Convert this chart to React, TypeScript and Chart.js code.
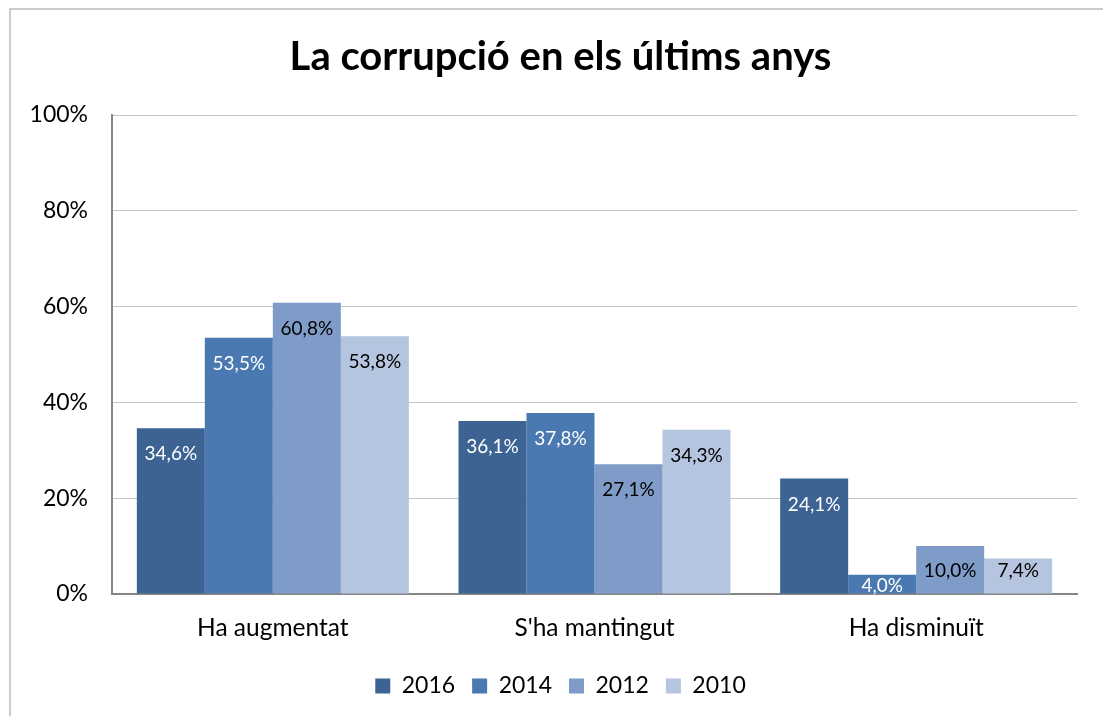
import React, { useEffect, useRef } from "react";
import { Chart, registerables } from "chart.js";

Chart.register(...registerables);

const categories = ["Ha augmentat", "S'ha mantingut", "Ha disminuït"];
const seriesLabels = ["2016", "2014", "2012", "2010"];
const values2016 = [34.6, 36.1, 24.1];
const values2014 = [53.5, 37.8, 4.0];
const values2012 = [60.8, 27.1, 10.0];
const values2010 = [53.8, 34.3, 7.4];
const yTicks = [0, 20, 40, 60, 80, 100];

const colors = ["#3d6393", "#4a78b0", "#7f9cc8", "#b5c4df"];
const labelColors = ["#ffffff", "#ffffff", "#000000", "#000000"];
const FONT = "Lato, 'Open Sans', sans-serif";

const fmt = (v: number) => v.toFixed(1).replace(".", ",") + "%";

const framePlugin = {
  id: "frame",
  beforeDraw(chart: any) {
    const ctx = chart.ctx;
    ctx.save();
    ctx.fillStyle = "#ffffff";
    ctx.fillRect(0, 0, chart.width, chart.height);
    ctx.fillStyle = "#cccccc";
    ctx.fillRect(9, 8, chart.width, 2);
    ctx.fillRect(9, 8, 2, chart.height);
    ctx.restore();
  },
};

// let the y-axis labels extend into the left padding without being clipped
const axisAreaPlugin = {
  id: "axisArea",
  afterLayout(chart: any) {
    const y = chart.scales.y;
    if (y) y.left = 0;
  },
};

const barLabelPlugin = {
  id: "barLabels",
  afterDatasetsDraw(chart: any) {
    const ctx = chart.ctx;
    ctx.save();
    ctx.font = `19px ${FONT}`;
    ctx.textAlign = "center";
    ctx.textBaseline = "middle";
    chart.data.datasets.forEach((ds: any, di: number) => {
      const meta = chart.getDatasetMeta(di);
      meta.data.forEach((bar: any, i: number) => {
        const p = bar.getProps(["x", "y", "base"], true);
        const h = p.base - p.y;
        const off = Math.min(26, Math.max(11.5, h - 23));
        ctx.fillStyle = labelColors[di];
        ctx.fillText(fmt(ds.data[i]), p.x, p.y + off);
      });
    });
    ctx.restore();
  },
};

export default function App() {
  const ref = useRef<HTMLCanvasElement | null>(null);
  useEffect(() => {
    if (!ref.current) return;
    const series = [values2016, values2014, values2012, values2010];
    const chart = new Chart(ref.current, {
      type: "bar",
      data: {
        labels: categories,
        datasets: series.map((d, i) => ({
          label: seriesLabels[i],
          data: d,
          backgroundColor: colors[i],
          borderWidth: 0,
          categoryPercentage: 0.8456,
          barPercentage: 1.0,
        })),
      },
      options: {
        responsive: false,
        animation: false,
        layout: { padding: { left: 44, right: 26, top: 0, bottom: 8.5 } },
        plugins: {
          title: {
            display: true,
            text: "La corrupció en els últims anys",
            color: "#000000",
            font: { family: FONT, size: 40, weight: "bold" },
            padding: { top: 33, bottom: 34 },
          },
          legend: {
            display: true,
            position: "bottom",
            labels: {
              color: "#000000",
              font: { family: FONT, size: 23 },
              boxWidth: 15,
              boxHeight: 15,
              padding: 17,
            },
          },
          tooltip: { enabled: false },
        },
        scales: {
          x: {
            grid: { display: false, drawTicks: false },
            border: { display: true, color: "#868686", width: 2 },
            ticks: {
              color: "#000000",
              font: { family: FONT, size: 24.5 },
              padding: 19.5,
            },
            afterFit(scale: any) {
              scale.height = 63.5;
            },
          },
          y: {
            min: 0,
            max: 100,
            afterBuildTicks(scale: any) {
              scale.ticks = yTicks.map((v) => ({ value: v }));
            },
            grid: { color: "#c4c4c4", lineWidth: 1, drawTicks: false },
            border: { display: true, color: "#868686", width: 2 },
            ticks: {
              color: "#000000",
              font: { family: FONT, size: 23 },
              padding: 24,
              callback: (v: any) => v + "%",
            },
            afterFit(scale: any) {
              scale.width = 68;
            },
          },
        },
      },
      plugins: [framePlugin, axisAreaPlugin, barLabelPlugin],
    });
    return () => chart.destroy();
  }, []);
  return (
    <div style={{ position: "fixed", left: 0, top: 0, width: 1103, height: 716 }}>
      <canvas ref={ref} width={1103} height={716} style={{ display: "block" }} />
    </div>
  );
}
